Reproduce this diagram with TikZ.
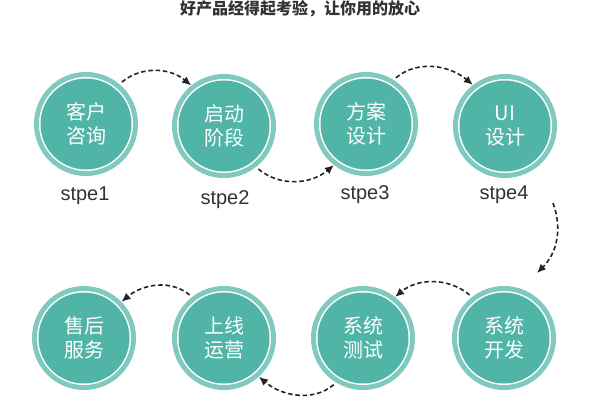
\documentclass[tikz,border=0pt]{standalone}
\usepackage{fontspec}
\setmainfont{Liberation Sans}
\newfontfamily\cjk{Noto Sans CJK SC}
\usetikzlibrary{arrows.meta}
\definecolor{ringc}{RGB}{128,201,191}
\definecolor{innerc}{RGB}{80,181,167}
\definecolor{darkc}{RGB}{35,35,35}
\definecolor{textc}{RGB}{51,51,51}
\tikzset{
  stepnode/.style={circle, minimum size=104pt, inner sep=0pt, fill=ringc,
    text=white, font=\cjk\fontsize{20}{23.5}\selectfont, align=center,
    path picture={
      \fill[white] (path picture bounding box.center) circle (47pt);
      \fill[innerc] (path picture bounding box.center) circle (45.5pt);
    }},
  steplabel/.style={text=textc, font=\fontsize{20}{22}\selectfont, inner sep=0pt},
  flow/.style={draw=darkc, line width=1.6pt, dash pattern=on 4.5pt off 2.8pt,
    -{Latex[length=9pt,width=8pt]}, shorten <=3pt}
}
\begin{document}
\begin{tikzpicture}[x=1pt,y=1pt]
\useasboundingbox (0,0) rectangle (600,-400);
\fill[white] (0,0) rectangle (600,-400);
\node[text=textc, font=\cjk\bfseries\fontsize{16}{18}\selectfont, inner sep=0pt] (title) at (300,-9) {好产品经得起考验，让你用的放心};
% top row
\node[stepnode] (c1) at (86,-124) {客户\\咨询};
\node[stepnode] (c2) at (224,-126) {启动\\阶段};
\node[stepnode] (c3) at (366,-124) {方案\\设计};
\node[stepnode] (c4) at (505,-126) {UI\\设计};
\node[steplabel] (s1) at (85,-196) {stpe1};
\node[steplabel] (s2) at (225,-200) {stpe2};
\node[steplabel] (s3) at (365,-195) {stpe3};
\node[steplabel] (s4) at (504,-195) {stpe4};
% bottom row
\node[stepnode] (c5) at (84,-338) {售后\\服务};
\node[stepnode] (c6) at (224,-338) {上线\\运营};
\node[stepnode] (c7) at (363,-338) {系统\\测试};
\node[stepnode] (c8) at (504,-338) {系统\\开发};
% connectors
\coordinate (a4s) at (553,-203);
\coordinate (a4e) at (537,-273);
\draw[flow] (c1.50) to[out=40,in=140] (c2.129);
\draw[flow] (c2.-52) to[out=-40,in=-140] (c3.-128);
\draw[flow] (c3.58) to[out=40,in=140] (c4.128);
\draw[flow, shorten <=0pt] (a4s) to[out=-70,in=45] (a4e);
\draw[flow] (c8.128) to[out=140,in=40] (c7.52);
\draw[flow] (c7.-121) to[out=-140,in=-40] (c6.-48);
\draw[flow] (c6.128) to[out=140,in=40] (c5.44);
\end{tikzpicture}
\end{document}
